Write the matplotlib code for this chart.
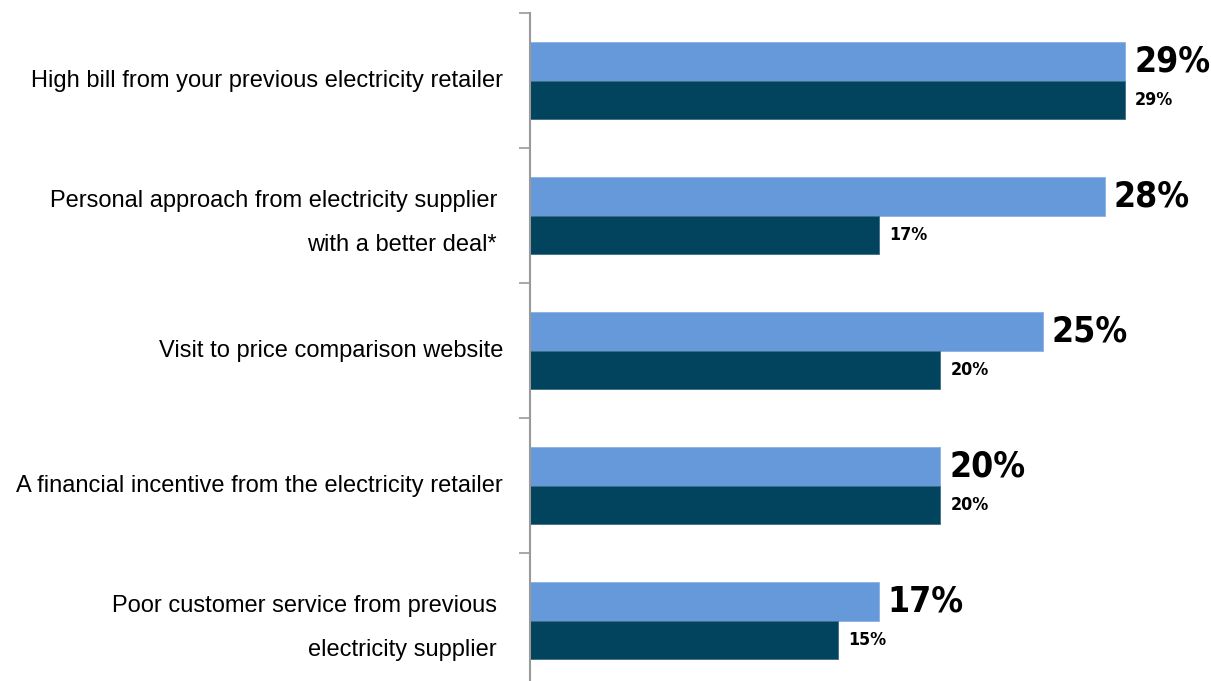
import matplotlib
matplotlib.use("Agg")
import matplotlib.pyplot as plt
from matplotlib import font_manager
from matplotlib.font_manager import FontProperties

categories = [
    "High bill from your previous electricity retailer",
    "Personal approach from electricity supplier\nwith a better deal*",
    "Visit to price comparison website",
    "A financial incentive from the electricity retailer",
    "Poor customer service from previous\nelectricity supplier",
]
series_a = [29, 28, 25, 20, 17]   # light blue
series_b = [29, 17, 20, 20, 15]   # dark teal

LIGHT = "#6699D9"
DARK = "#02435E"

# look for a narrow bold face for the Impact-like value labels
fonts = font_manager.fontManager.ttflist
narrow = [f for f in fonts
          if ("condensed" in str(f.stretch).lower() or "narrow" in f.name.lower()
              or "condensed" in f.name.lower() or "Condensed" in f.fname or "Narrow" in f.fname)]
narrow_bold = [f for f in narrow if (f.weight in ("bold", 700) or "Bold" in f.fname)
               and "Italic" not in f.fname and "Oblique" not in f.fname]
if narrow_bold:
    num_prop = lambda size: FontProperties(fname=narrow_bold[0].fname, size=size)
    big, small = 25.5, 12.8
else:
    num_prop = lambda size: FontProperties(family="DejaVu Sans", weight="bold", size=size)
    big, small = 23, 11.5

names = {f.name for f in fonts}
txt_font = "Liberation Sans" if "Liberation Sans" in names else "DejaVu Sans"

fig = plt.figure(figsize=(12.11, 6.81), dpi=100)
ax = fig.add_axes([530 / 1211, -0.0103, 681 / 1211, 0.9912])

h = 0.283
ys = list(range(len(categories)))
ax.barh([y - h / 2 for y in ys], series_a, height=h, color=LIGHT, edgecolor="#8ab0e3", lw=0.6)
ax.barh([y + h / 2 for y in ys], series_b, height=h, color=DARK, edgecolor="#3d6d85", lw=0.6)

for y, a, b in zip(ys, series_a, series_b):
    ax.annotate(f"{a}%", (a, y - h / 2), xytext=(9, 0), textcoords="offset pixels",
                ha="left", va="center", fontproperties=num_prop(big))
    ax.annotate(f"{b}%", (b, y + h / 2), xytext=(10, 0), textcoords="offset pixels",
                ha="left", va="center", fontproperties=num_prop(small))

# category labels, right-aligned left of the axis line
for y, lab in zip(ys, categories):
    two = "\n" in lab
    ax.annotate(lab, (0, y), xycoords=("axes fraction", "data"),
                xytext=(-33, -7.5) if two else (-27, 0), textcoords="offset pixels",
                ha="right", va="center", fontsize=17, family=txt_font, linespacing=2.34)

ax.set_xlim(0, 681 / 20.52)
ax.set_ylim(len(categories) - 0.5, -0.5)

ax.set_yticks([y - 0.5 for y in range(len(categories) + 1)])
ax.set_yticklabels([])
ax.tick_params(axis="y", which="major", direction="out", length=8, width=1.2, color="#999999")
ax.set_xticks([])

for s in ("top", "right", "bottom"):
    ax.spines[s].set_visible(False)
ax.spines["left"].set_color("#999999")
ax.spines["left"].set_linewidth(1.5)

fig.savefig("out.png", dpi=100)
